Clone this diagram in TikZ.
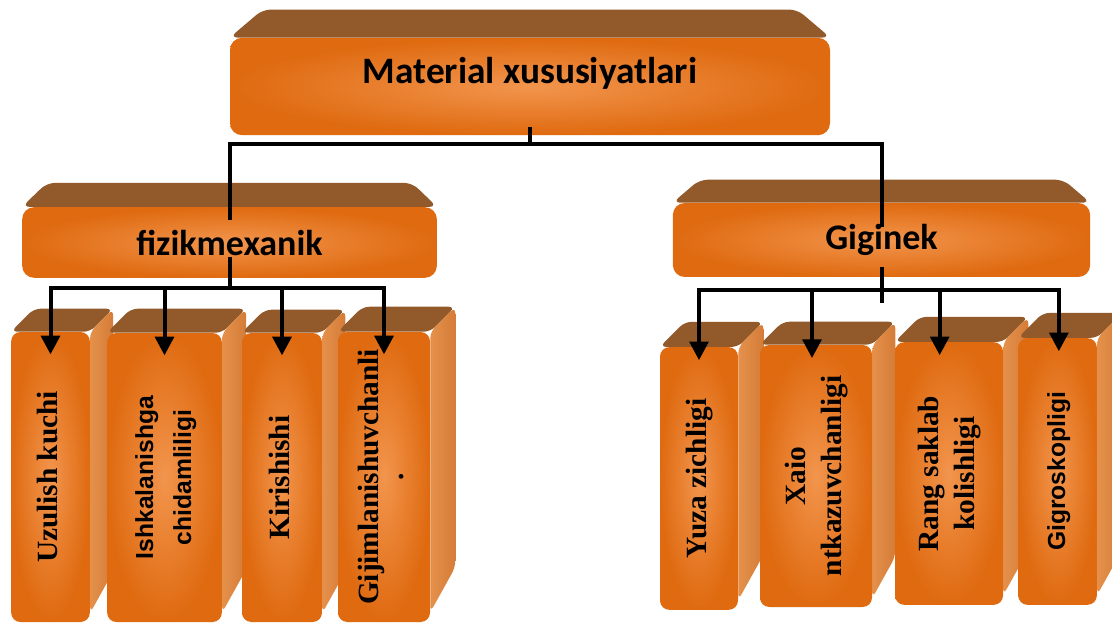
\documentclass[tikz,border=0pt]{standalone}
\usepackage{fontspec}
\usepackage{graphicx}
\setmainfont{Liberation Serif}
\newfontfamily\carlito{Carlito}
\newfontfamily\libsans{Liberation Sans}
\usetikzlibrary{arrows.meta,backgrounds,calc}

\definecolor{orangeedge}{HTML}{DF6A10}
\definecolor{orangemid}{HTML}{F2954D}
\definecolor{topbrown}{HTML}{925A2B}
\definecolor{sidelight}{HTML}{E5914B}
\definecolor{sidedark}{HTML}{D47C38}

\newcommand\vtext[1]{\rotatebox{90}{\begin{tabular}{@{}c@{}}#1\end{tabular}}}
% 盒子的顶面
\newcommand\lidtop[3]{\fill[topbrown,rounded corners=6pt] (#1.north west) -- ++(#2,-#3) -- ($(#1.north east)+(-#2,-#3)$) -- (#1.north east) -- cycle;}
% 竖盒子的顶面和侧面
\newcommand\leafback[2]{%
  \fill[topbrown,rounded corners=5pt] (#1.north west) -- ++(#2,-#2) -- ($(#1.north east)+(#2,-#2)$) -- (#1.north east) -- cycle;
  \shade[left color=sidelight,right color=sidedark,rounded corners=5pt] (#1.north east) -- ++(#2,-#2) -- ($(#1.south east)+(#2,-2.2*#2)$) -- ($(#1.south east)+(0,-0.4*#2)$) -- cycle;}

\tikzset{
  front/.style={rounded corners=9pt,inner sep=0pt,outer color=orangeedge,inner color=orangemid},
  headbox/.style={front,font=\carlito\bfseries\fontsize{27}{32}\selectfont},
  leaf/.style={front,rounded corners=7pt,font=\bfseries\fontsize{22}{27}\selectfont},
  leafsans/.style={leaf,font=\libsans\bfseries\fontsize{18.5}{28.5}\selectfont},
  conn/.style={line width=3pt},
  arr/.style={conn,-{Triangle[length=14pt,width=14pt]}}
}

\begin{document}
\begin{tikzpicture}[x=0.75pt,y=-0.75pt]
  \useasboundingbox (0,0) rectangle (1112,623);

  \node[headbox,font=\carlito\bfseries\fontsize{28}{33}\selectfont,minimum width=450pt,minimum height=73pt,text height=19pt,text depth=24pt] (mat) at (530,86.5) {Material xususiyatlari};
  \node[headbox,minimum width=311pt,minimum height=53pt] (fiz) at (229.5,242.5) {fizikmexanik};
  \node[headbox,minimum width=313pt,minimum height=55.5pt] (gig) at (881.5,240) {Giginek};

  \node[leaf,minimum width=59pt,minimum height=217.5pt] (u1) at (50.5,477) {\vtext{Uzulish kuchi}};
  \node[leafsans,minimum width=86pt,minimum height=216.75pt] (u2) at (164.5,477.5) {\vtext{Ishkalanishga\\chidamliligi}};
  \node[leaf,minimum width=60pt,minimum height=216.75pt] (u3) at (282,477.5) {\vtext{Kirishishi}};
  \node[leaf,minimum width=69pt,minimum height=217.5pt] (u4) at (384,477) {\vtext{Gijimlanishuvchanli\\[-8pt].}};

  \node[leaf,minimum width=58.5pt,minimum height=197pt] (r1) at (699,478.5) {\vtext{Yuza zichligi}};
  \node[leaf,minimum width=84pt,minimum height=196.5pt] (r2) at (816,476) {\vtext{Xaio\\ntkazuvchanligi}};
  \node[leaf,minimum width=81pt,minimum height=197pt] (r3) at (949,473.5) {\vtext{Rang saklab\\kolishligi}};
  \node[leafsans,minimum width=59pt,minimum height=200pt] (r4) at (1057.5,471.5) {\vtext{Gigroskopligi}};

  \begin{pgfonlayer}{background}
    \lidtop{mat}{33}{28}
    \lidtop{fiz}{25}{24}
    \lidtop{gig}{27}{23}
    \leafback{u1}{23}
    \leafback{u2}{24}
    \leafback{u3}{23}
    \leafback{u4}{25}
    \leafback{r1}{25}
    \leafback{r2}{23}
    \leafback{r3}{25}
    \leafback{r4}{25}
  \end{pgfonlayer}

  \draw[conn] ([yshift=6pt]mat.south) -- ++(0,17) -| ([yshift=-10pt]fiz.north);
  \draw[conn] ([yshift=6pt]mat.south) -- ++(0,17) -| ([yshift=-18pt]gig.north);

  \foreach \n in {u1,u2,u3,u4}
    \draw[arr] ([yshift=16pt]fiz.south) -- ++(0,31) -| ([yshift=-17pt]\n.north);

  \foreach \n/\s in {r1/0,r2/-3,r3/-7,r4/1}
    \draw[arr] ([yshift=7.5pt]gig.south) -- ++(0,23) -| ([xshift=\s pt,yshift=-10pt]\n.north);
  \draw[conn] ([yshift=7.5pt]gig.south) -- ++(0,36);
\end{tikzpicture}
\end{document}
